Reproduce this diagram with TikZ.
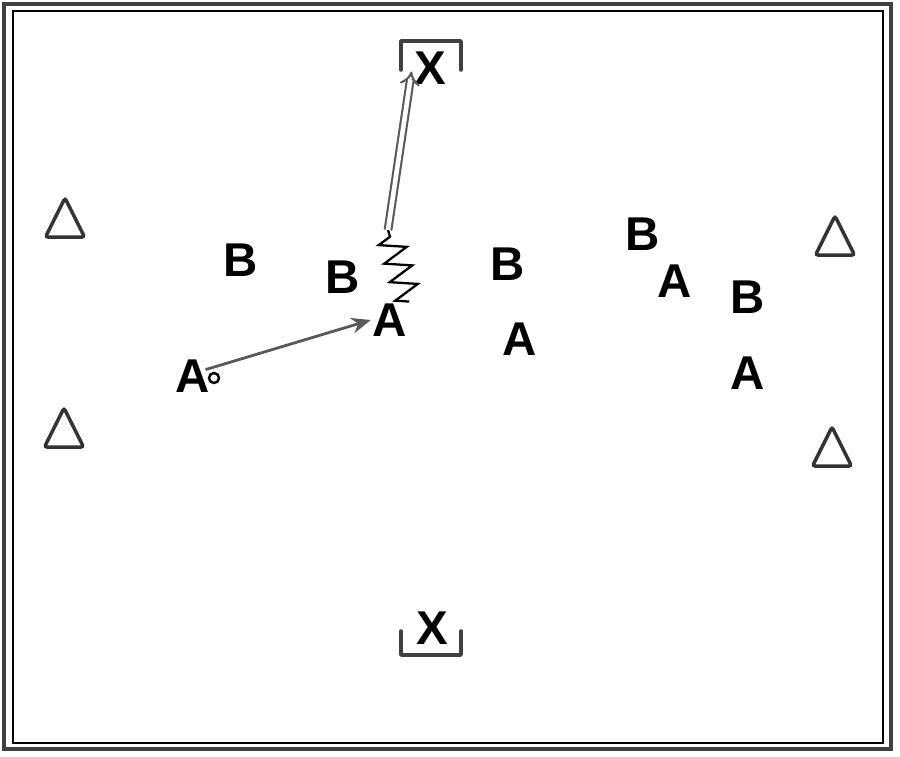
\documentclass[tikz,border=0pt]{standalone}
\usepackage{fontspec}
\setmainfont{Liberation Sans}
\usetikzlibrary{arrows.meta}
\usetikzlibrary{shapes.geometric}
\usetikzlibrary{decorations.pathmorphing}

\begin{document}
\begin{tikzpicture}[x=0.02cm,y=-0.02cm,
  player/.style={font=\fontsize{27}{27}\selectfont\bfseries,inner sep=1pt},
  cone/.style={draw=black!80,line width=2pt,isosceles triangle,isosceles triangle stretches,shape border rotate=90,minimum width=0.78cm,minimum height=0.78cm,inner sep=0pt,rounded corners=1.5pt},
  goalbox/.style={draw=black!75,line width=2pt,line cap=round,line join=round},
  pass/.style={draw=black!65,line width=1.6pt,-{Stealth[length=11pt,width=9pt]}},
  dribble/.style={draw,line width=1.3pt,decorate,decoration={zigzag,segment length=11pt,amplitude=7.5pt}},
  shot/.style={draw=black!65,double,double distance=2.6pt,line width=1.2pt,shorten >=2pt,-{Implies}}]
  \useasboundingbox (0,0) rectangle (900,757);
  %field
  \draw[line width=2.5pt,black!75] (4,4) rectangle (891,749);
  \draw[line width=0.8pt] (13,11) rectangle (883,743);

  %goals
  \node[player] (gtop) at (430,68) {X};
  \draw[goalbox] (gtop) ++(-29,2) -- ++(0,-29) -- ++(60,0) -- ++(0,29);
  \node[player] (gbot) at (432,628) {X};
  \draw[goalbox] (gbot) ++(-31,3) -- ++(0,24) -- ++(60,0) -- ++(0,-24);

  %cones
  \node[cone] (c1) at (65,225) {};
  \node[cone] (c2) at (64,435) {};
  \node[cone] (c3) at (835,243) {};
  \node[cone] (c4) at (832,454) {};

  %players
  \node[player] (b1) at (241,260) {B};
  \node[player] (b2) at (343,277) {B};
  \node[player] (b3) at (508,264) {B};
  \node[player] (b4) at (643,234) {B};
  \node[player] (b5) at (748,297) {B};
  \node[player] (a1) at (193,376) {A};
  \node[player] (a2) at (390,320) {A};
  \node[player] (a3) at (520,339) {A};
  \node[player] (a4) at (675,281) {A};
  \node[player] (a5) at (748,373) {A};
  \node[circle,draw,line width=1.4pt,inner sep=0pt,minimum size=0.2cm] (ball) at (214,378) {};

  %moves
  \coordinate (turn) at (388,230);
  \draw[pass] (ball.north west) ++(-4,-4) -- (a2.west);
  \draw[dribble] (a2.north east) -- (turn);
  \draw[shot] (turn) -- (gtop.west);
\end{tikzpicture}
\end{document}
